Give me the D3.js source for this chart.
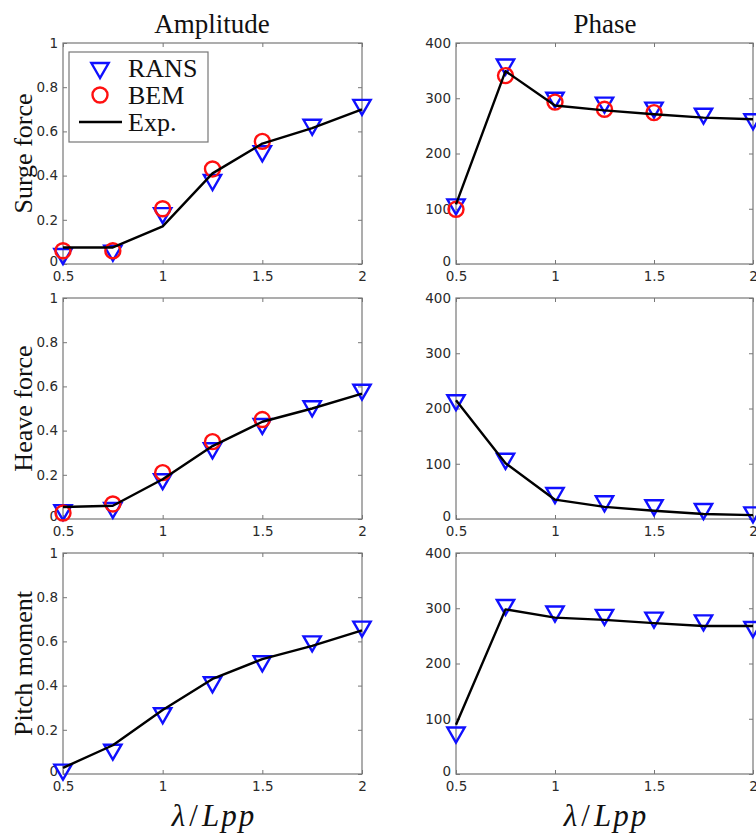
<html>
  <head>
    <script src="https://d3js.org/d3.v7.min.js"></script>
    <style>
      body { margin: 0; background: #fff; }
      .tick text {
        font-family: "DejaVu Sans", Arial, sans-serif;
        font-size: 13.5px;
        fill: #2a2a2a;
      }
      .title, .ylabel, .legend-text {
        font-family: "Liberation Serif", "DejaVu Serif", serif;
        fill: #111;
      }
      .xlabel {
        font-family: "Liberation Serif", "DejaVu Serif", serif;
        font-style: italic;
        font-size: 31px;
        fill: #111;
      }
    </style>
  </head>
  <body>
    <svg id="chart" width="756" height="834"></svg>
    <script>
      // wave length ratio
      const lambda = [0.5, 0.75, 1, 1.25, 1.5, 1.75, 2];
      const lambdaBEM = [0.5, 0.75, 1, 1.25, 1.5];

      // surge force
      const surgeAmpRANS = [0.045, 0.06, 0.23, 0.38, 0.51, 0.63, 0.72];
      const surgeAmpBEM  = [0.06, 0.06, 0.25, 0.43, 0.555];
      const surgeAmpExp  = [0.075, 0.075, 0.17, 0.41, 0.545, 0.615, 0.70];
      const surgePhaRANS = [108, 361, 301, 292, 283, 272, 262];
      const surgePhaBEM  = [99, 341, 293, 280, 274];
      const surgePhaExp  = [108, 349, 287, 278, 271, 265, 262];

      // heave force
      const heaveAmpRANS = [0.04, 0.05, 0.18, 0.32, 0.43, 0.51, 0.585];
      const heaveAmpBEM  = [0.027, 0.068, 0.21, 0.35, 0.45];
      const heaveAmpExp  = [0.054, 0.06, 0.18, 0.33, 0.44, 0.50, 0.567];
      const heavePhaRANS = [215, 109, 47, 32, 25, 18, 12];
      const heavePhaExp  = [215, 101, 35, 22, 15, 9, 7];

      // pitch moment
      const pitchAmpRANS = [0.02, 0.11, 0.275, 0.415, 0.51, 0.60, 0.667];
      const pitchAmpExp  = [0.028, 0.13, 0.29, 0.43, 0.52, 0.58, 0.65];
      const pitchPhaRANS = [75, 306, 294, 288, 283, 278, 266];
      const pitchPhaExp  = [89, 298, 283, 279, 273, 268, 268];

      const xTicks = [0.5, 1, 1.5, 2];
      const ampTicks = [0, 0.2, 0.4, 0.6, 0.8, 1];
      const phaTicks = [0, 100, 200, 300, 400];
      const rowLabels = ["Surge force", "Heave force", "Pitch moment"];

      const rows = [
        {label: rowLabels[0], amp: [surgeAmpRANS, surgeAmpBEM, surgeAmpExp], pha: [surgePhaRANS, surgePhaBEM, surgePhaExp]},
        {label: rowLabels[1], amp: [heaveAmpRANS, heaveAmpBEM, heaveAmpExp], pha: [heavePhaRANS, null, heavePhaExp]},
        {label: rowLabels[2], amp: [pitchAmpRANS, null, pitchAmpExp], pha: [pitchPhaRANS, null, pitchPhaExp]}
      ];

      const svg = d3.select("#chart");
      const rowTops = [43, 298, 553];
      const plotH = 221;
      const cols = [
        {left: 63, right: 362, domain: [0, 1], ticks: ampTicks, key: "amp"},
        {left: 456, right: 753, domain: [0, 400], ticks: phaTicks, key: "pha"}
      ];

      const tri = d3.symbol().type(d3.symbolTriangle).size(130);

      rows.forEach((row, ri) => {
        cols.forEach((col, ci) => {
          const top = rowTops[ri];
          const x = d3.scaleLinear().domain([0.5, 2]).range([col.left, col.right]);
          const y = d3.scaleLinear().domain(col.domain).range([top + plotH, top]);
          const g = svg.append("g");

          // frame
          g.append("rect")
            .attr("x", col.left).attr("y", top)
            .attr("width", col.right - col.left).attr("height", plotH)
            .attr("fill", "none").attr("stroke", "#777").attr("stroke-width", 1.2);

          // axes, ticks inward
          const bottom = g.append("g")
            .attr("transform", `translate(0,${top + plotH})`)
            .call(d3.axisBottom(x).tickValues(xTicks).tickSizeInner(-4).tickSizeOuter(0).tickPadding(6).tickFormat(d3.format("")));
          const topAx = g.append("g")
            .attr("transform", `translate(0,${top})`)
            .call(d3.axisTop(x).tickValues(xTicks).tickSizeInner(-4).tickSizeOuter(0).tickFormat(""));
          const left = g.append("g")
            .attr("transform", `translate(${col.left},0)`)
            .call(d3.axisLeft(y).tickValues(col.ticks).tickSizeInner(-4).tickSizeOuter(0).tickPadding(5).tickFormat(d3.format("")));
          const rightAx = g.append("g")
            .attr("transform", `translate(${col.right},0)`)
            .call(d3.axisRight(y).tickValues(col.ticks).tickSizeInner(-4).tickSizeOuter(0).tickFormat(""));
          [bottom, topAx, left, rightAx].forEach(a => {
            a.select(".domain").remove();
            a.selectAll("line").attr("stroke", "#777");
          });
          // the zero label sits a bit above the corner, like in the original
          left.selectAll(".tick text").filter(d => d === 0).attr("dy", "0.1em");
          bottom.selectAll(".tick text").attr("dy", "0.85em");

          const [rans, bem, exp] = row[col.key];

          // RANS triangles (pointing down)
          g.selectAll(".rans")
            .data(rans)
            .join("path")
            .attr("class", "rans")
            .attr("d", tri)
            .attr("transform", (d, i) => `translate(${x(lambda[i])},${y(d)}) rotate(180)`)
            .attr("fill", "none")
            .attr("stroke", "#1010ff")
            .attr("stroke-width", 2.4);

          // BEM circles
          if (bem) {
            g.selectAll(".bem")
              .data(bem)
              .join("circle")
              .attr("class", "bem")
              .attr("cx", (d, i) => x(lambdaBEM[i]))
              .attr("cy", d => y(d))
              .attr("r", 7.5)
              .attr("fill", "none")
              .attr("stroke", "#ff1010")
              .attr("stroke-width", 2.4);
          }

          // Exp line
          g.append("path")
            .datum(exp)
            .attr("fill", "none")
            .attr("stroke", "#000")
            .attr("stroke-width", 2.4)
            .attr("stroke-linejoin", "round")
            .attr("d", d3.line().x((d, i) => x(lambda[i])).y(d => y(d)));

          if (ci === 0) {
            svg.append("text")
              .attr("class", "ylabel")
              .attr("transform", `translate(32,${top + plotH / 2}) rotate(-90)`)
              .attr("text-anchor", "middle")
              .style("font-size", "26px")
              .text(row.label);
          }
        });
      });

      // column titles
      svg.append("text").attr("class", "title")
        .attr("x", 212).attr("y", 33).attr("text-anchor", "middle")
        .style("font-size", "27px").text("Amplitude");
      svg.append("text").attr("class", "title")
        .attr("x", 605).attr("y", 33).attr("text-anchor", "middle")
        .style("font-size", "27px").text("Phase");

      // x labels
      [213, 605].forEach(cx => {
        const t = svg.append("text").attr("class", "xlabel")
          .attr("x", cx).attr("y", 826).attr("text-anchor", "middle");
        t.append("tspan").text("λ");
        t.append("tspan").attr("dx", 4).style("font-style", "normal").text("/");
        t.append("tspan").attr("dx", 4).text("L");
        t.append("tspan").attr("dx", 2).text("p");
        t.append("tspan").attr("dx", 2).text("p");
      });

      // legend
      const legend = svg.append("g");
      legend.append("rect")
        .attr("x", 69).attr("y", 52).attr("width", 139).attr("height", 90)
        .attr("fill", "#fff").attr("stroke", "#777").attr("stroke-width", 1.2);
      const legendNames = ["RANS", "BEM", "Exp."];
      const legendY = [68, 95, 122];
      legend.append("path")
        .attr("d", tri)
        .attr("transform", `translate(100,${legendY[0]}) rotate(180)`)
        .attr("fill", "none").attr("stroke", "#1010ff").attr("stroke-width", 2.4);
      legend.append("circle")
        .attr("cx", 100).attr("cy", legendY[1]).attr("r", 7.5)
        .attr("fill", "none").attr("stroke", "#ff1010").attr("stroke-width", 2.4);
      legend.append("line")
        .attr("x1", 79).attr("x2", 122).attr("y1", legendY[2]).attr("y2", legendY[2])
        .attr("stroke", "#000").attr("stroke-width", 2.4);
      legend.selectAll(".legend-text")
        .data(legendNames)
        .join("text")
        .attr("class", "legend-text")
        .attr("x", 128)
        .attr("y", (d, i) => legendY[i])
        .attr("dy", "0.35em")
        .style("font-size", "26px")
        .text(d => d);
    </script>
  </body>
</html>
